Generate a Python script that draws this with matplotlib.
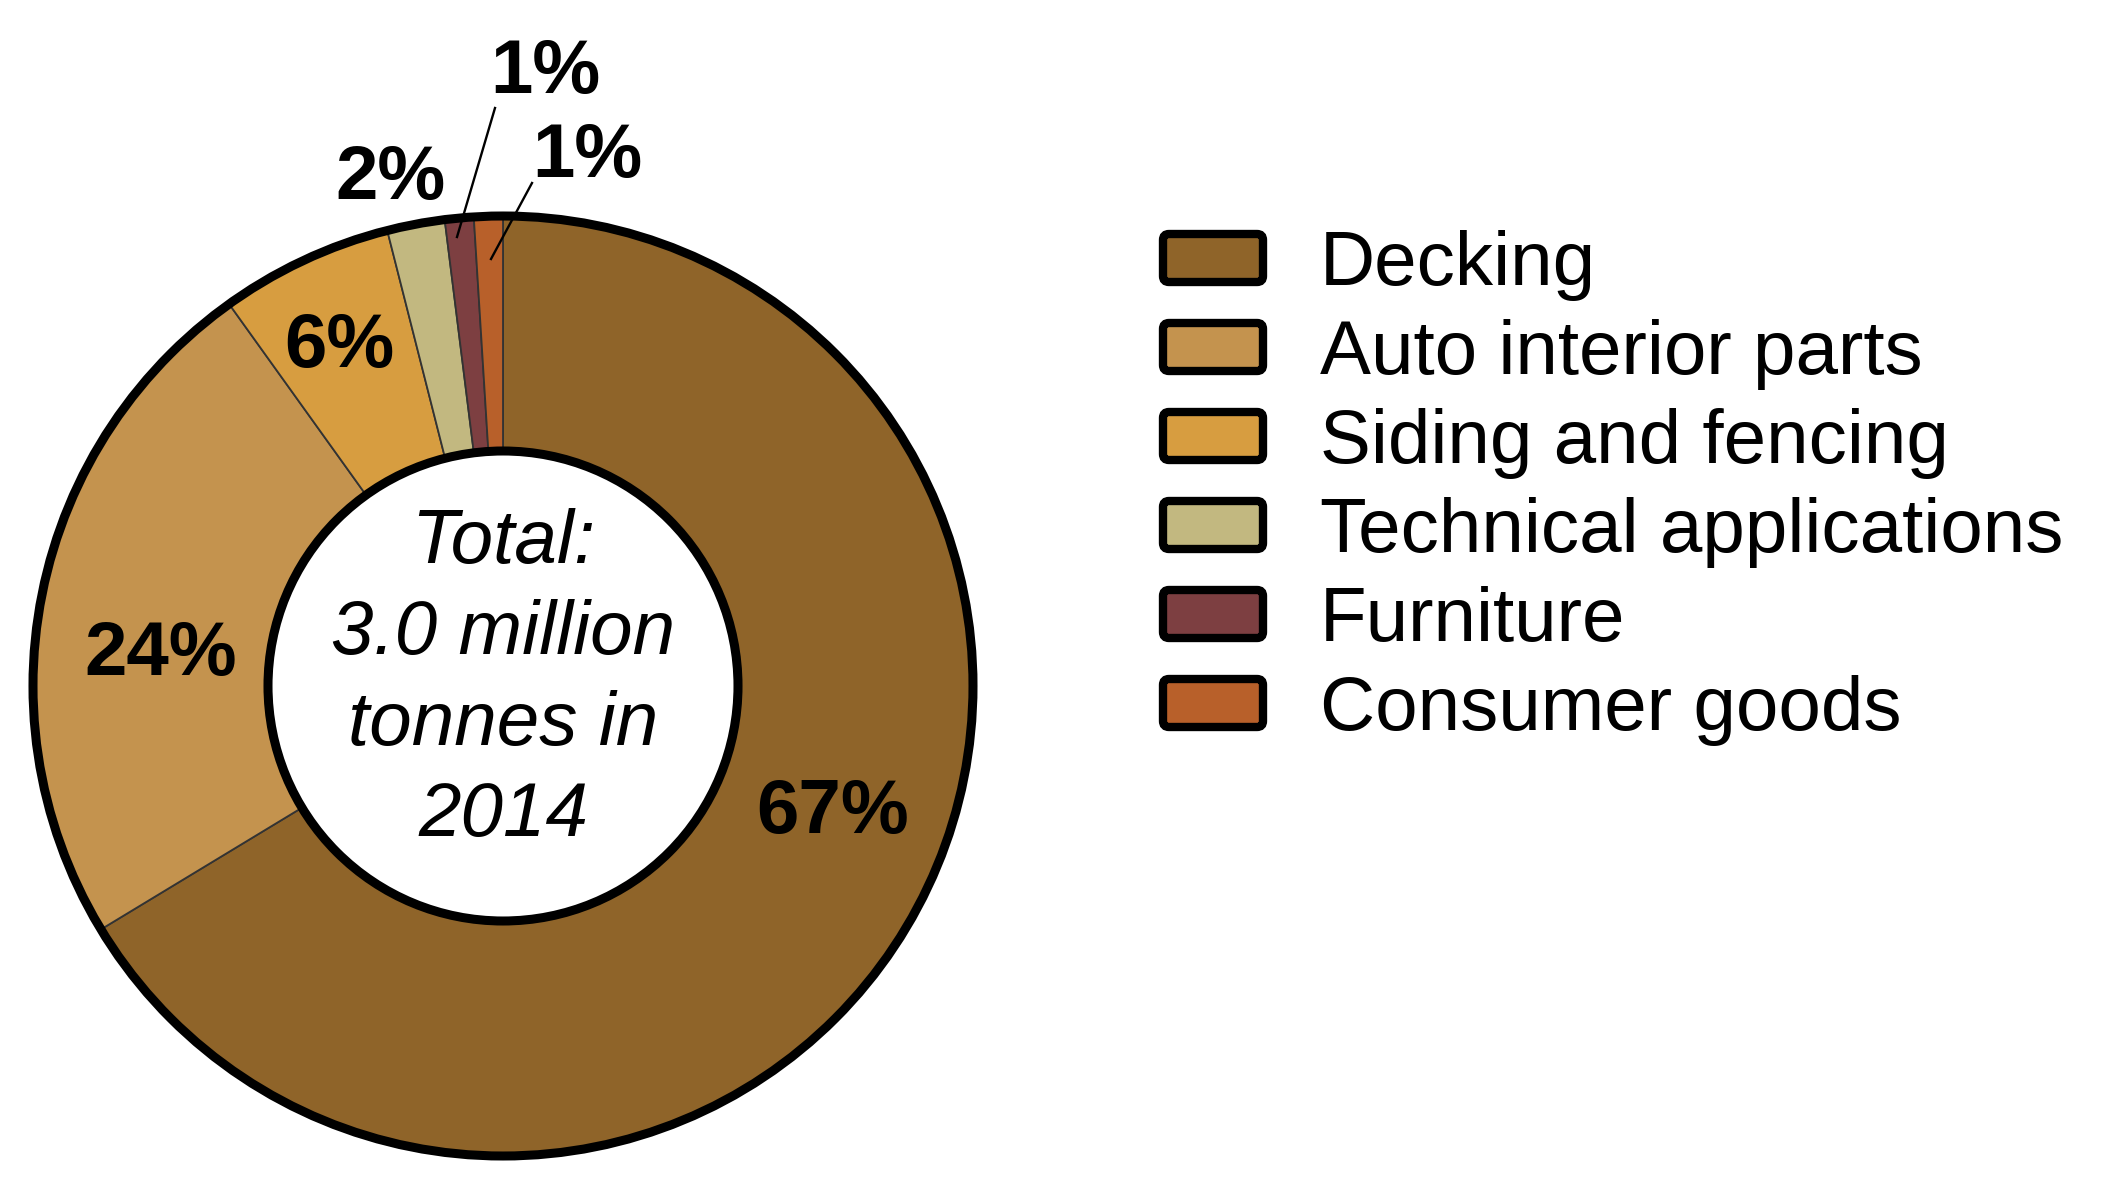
import matplotlib
matplotlib.use("Agg")
import matplotlib.pyplot as plt
from matplotlib.patches import Circle, FancyBboxPatch

plt.rcParams['font.family'] = ['Liberation Sans', 'DejaVu Sans']

categories = ["Decking", "Auto interior parts", "Siding and fencing",
              "Technical applications", "Furniture", "Consumer goods"]
shares = [67, 24, 6, 2, 1, 1]
colors = ["#8F6429", "#C4934E", "#D79D40", "#C2B880", "#7D3F41", "#B8602A"]
center_text = "Total:\n3.0 million\ntonnes in\n2014"

W, H = 2108, 1187
fig = plt.figure(figsize=(W / 100, H / 100), dpi=100)
ax = fig.add_axes([0, 0, 1, 1])

# pie laid out in pixel units (y measured from bottom)
cx, cy, R = 503, H - 686, 470
ax.pie(shares, colors=colors, startangle=90, counterclock=False,
       radius=R, center=(cx, cy),
       wedgeprops=dict(width=R * 0.5, edgecolor="#333333", linewidth=1.3))
ax.add_patch(Circle((cx, cy), R, fill=False, edgecolor="black", lw=6.5, zorder=3))
ax.add_patch(Circle((cx, cy), R * 0.5, facecolor="white", edgecolor="black", lw=6.5, zorder=3))
ax.set_xlim(0, W)
ax.set_ylim(0, H)
ax.axis("off")

ax.text(cx, cy + 6, center_text, ha="center", va="center", fontsize=55,
        style="italic", linespacing=1.36)

# percentage labels (pixel positions from top)
label_pos = [(833, 813), (161, 655), (339, 347), (391, 180), (545, 74), (587, 157)]
for v, (x, y) in zip(shares, label_pos):
    ax.text(x, H - y, f"{v}%", ha="center", va="center", fontsize=55,
            fontweight="bold", zorder=5)

# leader lines for the two small slices
ax.plot([495, 457], [H - 108, H - 237], color="black", lw=1.7, zorder=4)
ax.plot([532, 491], [H - 183, H - 259], color="black", lw=1.7, zorder=4)

# legend
for i, (name, c) in enumerate(zip(categories, colors)):
    yc = H - (258 + 89 * i)
    ax.add_patch(FancyBboxPatch((1163, yc - 24), 100, 48,
                                boxstyle="round,pad=0,rounding_size=6",
                                facecolor=c, edgecolor="black", lw=6))
    ax.text(1320, yc - 27, name, ha="left", va="baseline", fontsize=55)

fig.savefig("out.png", dpi=100)
